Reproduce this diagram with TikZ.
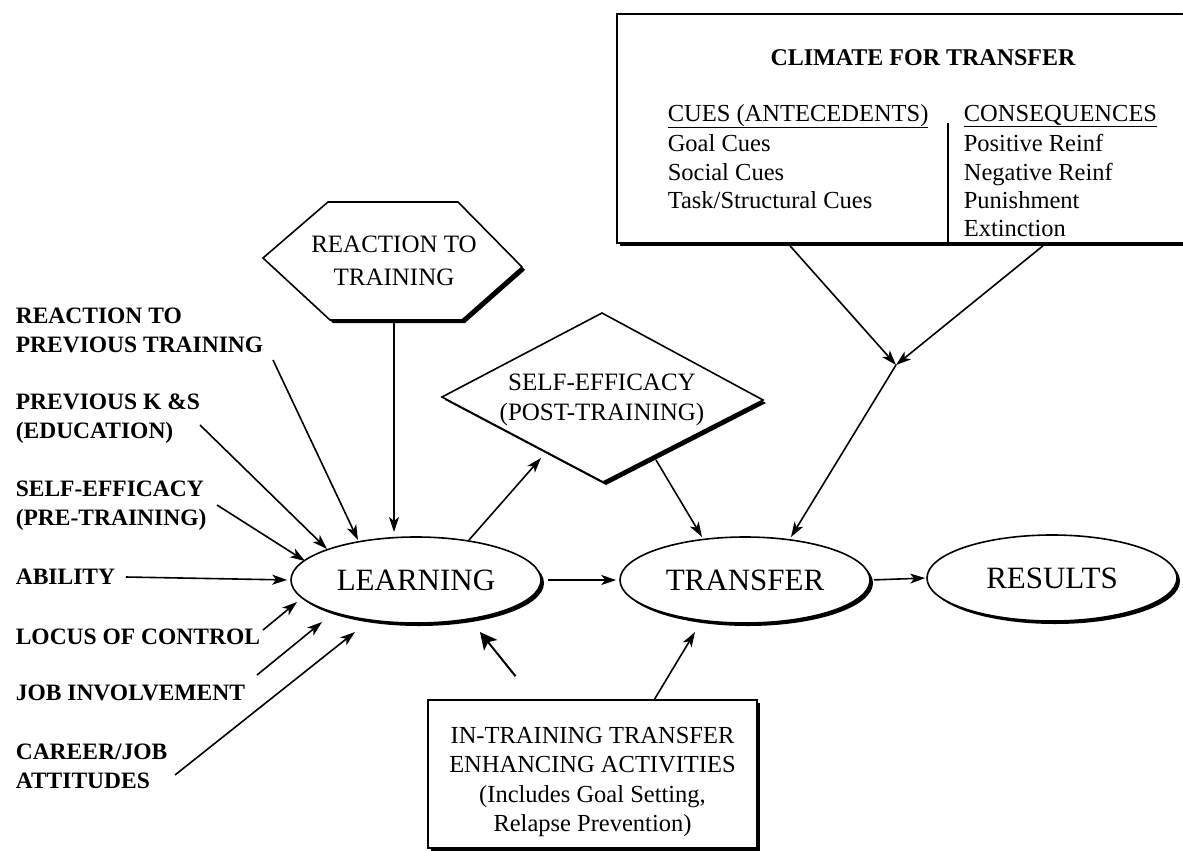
\documentclass[tikz,border=0pt]{standalone}
\usepackage{fontspec}
\setmainfont{Liberation Serif}
\usetikzlibrary{arrows.meta,calc,shadows,shapes.geometric}
\tikzset{
 arr/.style={-{Stealth[length=15pt,width=10pt,inset=4pt]}, line width=1.6pt},
 bigarr/.style={-{Stealth[length=17pt,width=17pt,inset=4pt]}, line width=2pt},
 lbl/.style={font=\fontsize{23.5}{29}\selectfont\bfseries, align=left, anchor=west, inner sep=0pt},
 boxtxt/.style={font=\fontsize{24.5}{29}\selectfont, anchor=base west, inner sep=0pt},
 shad/.style={drop shadow={shadow xshift=3pt, shadow yshift=-3pt, opacity=1, fill=black}},
 oval/.style={ellipse, draw, fill=white, line width=1.6pt, minimum width=250pt, minimum height=86pt, inner sep=0pt, font=\fontsize{31}{36}\selectfont, shad},
 plain/.style={inner sep=0pt, align=center},
 framebox/.style={draw, fill=white, line width=1.6pt, inner sep=0pt, shad},
}
\begin{document}
\begin{tikzpicture}[x=1pt,y=-1pt,line width=1.6pt]
\useasboundingbox (0,0) rectangle (1183,851);

% climate box
\node[framebox, minimum width=580pt, minimum height=229pt] (climate) at (907,128.5) {};
\node[font=\fontsize{24}{29}\selectfont\bfseries, inner sep=0pt] (ctitle) at (923,58) {CLIMATE FOR TRANSFER};
\node[boxtxt] (hcues) at (667,121) {\underline{CUES (ANTECEDENTS)}};
\node[boxtxt] (hcons) at (963,121) {\underline{CONSEQUENCES}};
\node[boxtxt] (c1) at (667,151) {Goal Cues};
\node[boxtxt] (c2) at (667,180) {Social Cues};
\node[boxtxt] (c3) at (667,208) {Task/Structural Cues};
\node[boxtxt] (k1) at (963,151) {Positive Reinf};
\node[boxtxt] (k2) at (963,180) {Negative Reinf};
\node[boxtxt] (k3) at (963,208) {Punishment};
\node[boxtxt] (k4) at (963,236) {Extinction};
\coordinate (divtop) at (948,123);
\draw (divtop) -- (divtop |- climate.south);

% hexagon
\begin{scope}[shift={(3,3)}]
\fill[black] (328,202) -- (458,202) -- (522,267) -- (462,320) -- (330,320) -- (263,258) -- cycle;
\end{scope}
\filldraw[fill=white] (328,202) -- (458,202) -- (522,267) -- (462,320) -- (330,320) -- (263,258) -- cycle;
\node[plain, font=\fontsize{25}{33}\selectfont, minimum height=118pt] (hex) at (394,261) {REACTION TO\\TRAINING};

% diamond
\begin{scope}[shift={(3,3)}]
\fill[black] (442,397) -- (602,313) -- (763,400) -- (603,482) -- cycle;
\end{scope}
\filldraw[fill=white] (442,397) -- (602,313) -- (763,400) -- (603,482) -- cycle;
\node[plain, font=\fontsize{25}{30}\selectfont] (diam) at (602,400) {SELF-EFFICACY\\(POST-TRAINING)};

% left labels
\node[lbl] (lrp) at (15,330) {REACTION TO\\PREVIOUS TRAINING};
\node[lbl] (lks) at (15,419) {PREVIOUS K \&S\\(EDUCATION)};
\node[lbl] (lsp) at (15,506) {SELF-EFFICACY\\(PRE-TRAINING)};
\node[lbl] (lab) at (15,577) {ABILITY};
\node[lbl] (llc) at (15,637) {LOCUS OF CONTROL};
\node[lbl] (ljb) at (15,693) {JOB INVOLVEMENT};
\node[lbl] (lcj) at (15,766) {CAREER/JOB\\ATTITUDES};

% ellipses
\node[oval] (learn) at (416,580) {LEARNING};
\node[oval] (transfer) at (745,580) {TRANSFER};
\node[oval] (results) at (1052,578) {RESULTS};

% bottom box
\node[framebox, minimum width=329pt, minimum height=148pt] (tbox) at (592.5,774) {};
\node[plain, font=\fontsize{24.5}{29.3}\selectfont] (tboxtext) at (592.5,782) {IN-TRAINING TRANSFER\\ENHANCING ACTIVITIES\\(Includes Goal Setting,\\Relapse Prevention)};

% connectors
\coordinate (s1) at (273,360);
\coordinate (s2) at (200,425);
\coordinate (s3) at (217,505);
\coordinate (s4) at (263,630);
\coordinate (s5) at (257,675);
\coordinate (s6) at (175,775);
\draw[arr] (s1) -- ($(learn)+(-58,-40)$);
\draw[arr] (s2) -- ($(learn)+(-89,-31)$);
\draw[arr] (s3) -- ($(learn)+(-111,-19)$);
\draw[arr, shorten >=3pt] ([xshift=10pt]lab.east) -- (learn.west);
\draw[arr] (s4) -- ($(learn)+(-119,22)$);
\draw[arr] (s5) -- ($(learn)+(-94,42)$);
\draw[arr] (s6) -- ($(learn)+(-61,52)$);
\draw[arr] (hex.south) -- ($(learn)+(-22,-48)$);
\draw[arr] ($(learn)+(53,-40)$) -- ($(diam)+(-61,58)$);
\draw[arr] ($(diam)+(54,60)$) -- ($(transfer)+(-43,-43)$);
\coordinate (junc) at (896,365);
\draw[arr] ($(climate.south)+(-117,2)$) -- (junc);
\draw[arr] ($(climate.south)+(136,2)$) -- (junc);
\draw[arr] (junc) -- ($(transfer)+(46,-43)$);
\draw[arr, shorten <=6pt, shorten >=3pt] (learn.east) -- (transfer.west);
\draw[arr, shorten <=3pt, shorten >=1pt] (transfer.east) -- (results.west);
\draw[bigarr] ($(tbox.north)+(-77,-23)$) -- ($(learn)+(64,52)$);
\draw[arr] ($(tbox.north)+(62,0)$) -- ($(transfer)+(-50,52)$);
\end{tikzpicture}
\end{document}
